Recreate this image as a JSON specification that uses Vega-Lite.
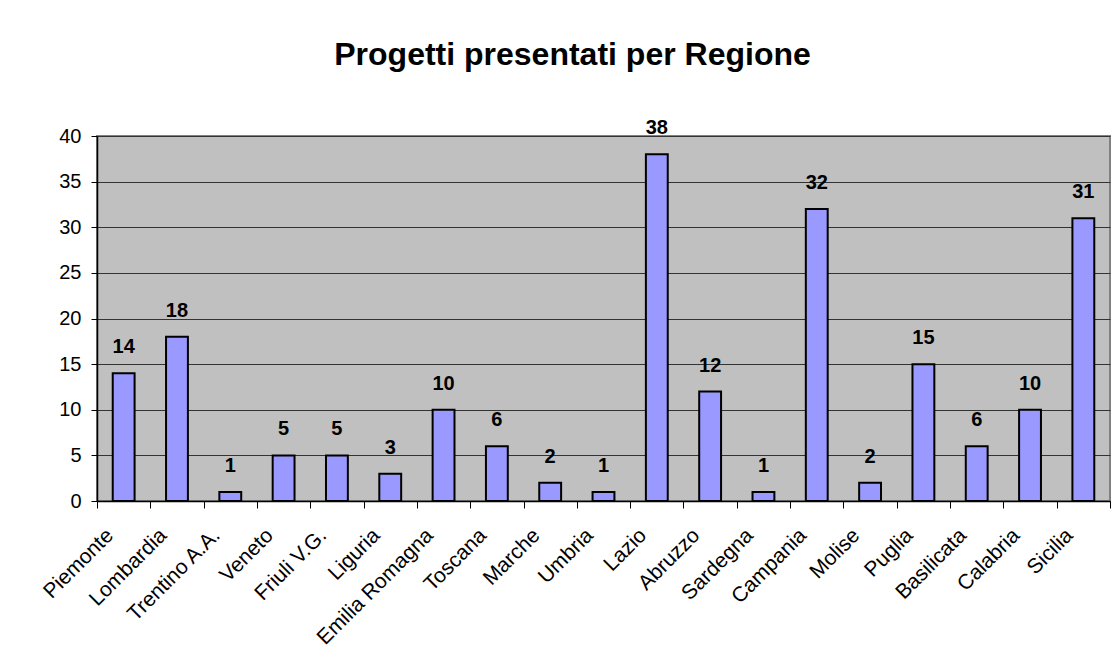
{
  "$schema": "https://vega.github.io/schema/vega-lite/v6.json",
  "width": 1013,
  "height": 365,
  "autosize": {"type": "none"},
  "padding": {"left": 97, "top": 136, "right": 9, "bottom": 169},
  "background": "white",
  "title": {
    "text": "Progetti presentati per Regione",
    "font": "Liberation Sans",
    "fontSize": 32,
    "fontWeight": "bold",
    "color": "black",
    "anchor": "middle",
    "dx": -31,
    "offset": 46
  },
  "config": {
    "view": {"fill": "#C0C0C0", "stroke": "#808080", "strokeWidth": 2},
    "font": "Liberation Sans"
  },
  "data": {
    "values": [
      {"regione": "Piemonte", "progetti": 14},
      {"regione": "Lombardia", "progetti": 18},
      {"regione": "Trentino A.A.", "progetti": 1},
      {"regione": "Veneto", "progetti": 5},
      {"regione": "Friuli V.G.", "progetti": 5},
      {"regione": "Liguria", "progetti": 3},
      {"regione": "Emilia Romagna", "progetti": 10},
      {"regione": "Toscana", "progetti": 6},
      {"regione": "Marche", "progetti": 2},
      {"regione": "Umbria", "progetti": 1},
      {"regione": "Lazio", "progetti": 38},
      {"regione": "Abruzzo", "progetti": 12},
      {"regione": "Sardegna", "progetti": 1},
      {"regione": "Campania", "progetti": 32},
      {"regione": "Molise", "progetti": 2},
      {"regione": "Puglia", "progetti": 15},
      {"regione": "Basilicata", "progetti": 6},
      {"regione": "Calabria", "progetti": 10},
      {"regione": "Sicilia", "progetti": 31}
    ]
  },
  "encoding": {
    "x": {
      "field": "regione",
      "type": "nominal",
      "sort": null,
      "scale": {"paddingInner": 0, "paddingOuter": 0},
      "axis": {
        "title": null,
        "labelAngle": -45,
        "labelAlign": "right",
        "labelBaseline": "middle",
        "labelFontSize": 21,
        "labelColor": "black",
        "labelPadding": 24,
        "labelOffset": -14,
        "labelOverlap": false,
        "tickBand": "extent",
        "tickColor": "black",
        "tickSize": 7,
        "domainColor": "black",
        "domainWidth": 1.5,
        "grid": false
      }
    },
    "y": {
      "field": "progetti",
      "type": "quantitative",
      "scale": {"domain": [0, 40]},
      "axis": {
        "title": null,
        "values": [0, 5, 10, 15, 20, 25, 30, 35, 40],
        "labelFontSize": 20,
        "labelColor": "black",
        "labelPadding": 10,
        "tickColor": "black",
        "tickSize": 6,
        "domainColor": "black",
        "domainWidth": 1.5,
        "gridColor": "#333333",
        "gridWidth": 1,
        "gridOpacity": 1
      }
    }
  },
  "layer": [
    {
      "mark": {"type": "bar", "fill": "#9999FF", "stroke": "black", "strokeWidth": 2, "width": {"band": 0.41}}
    },
    {
      "mark": {"type": "text", "fontSize": 20, "fontWeight": "bold", "color": "black", "baseline": "bottom", "dy": -16},
      "encoding": {"text": {"field": "progetti", "type": "quantitative"}}
    }
  ]
}
